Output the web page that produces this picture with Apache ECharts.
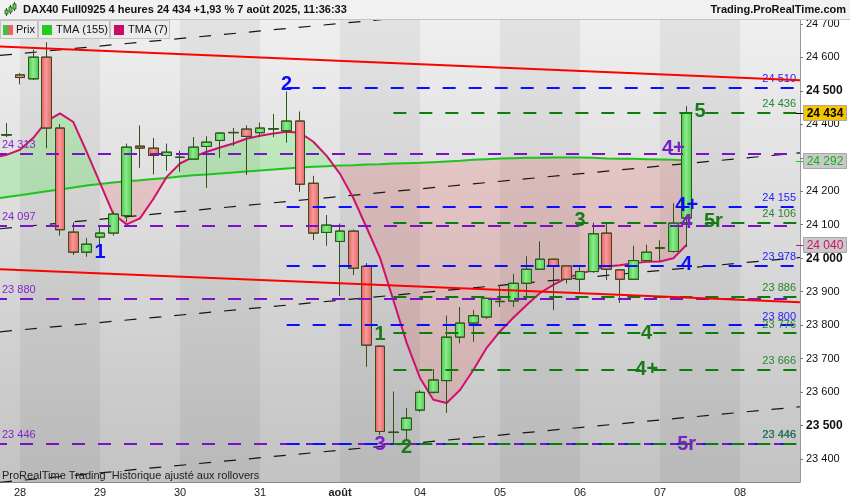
<!DOCTYPE html>
<html><head><meta charset="utf-8">
<script src="https://cdn.jsdelivr.net/npm/echarts@6.0.0/dist/echarts.min.js"></script>
<style>html,body{margin:0;padding:0;background:#fff;}#chart{width:850px;height:500px;}</style>
</head><body><div id="chart"></div>
<script>
const FONT = '"Liberation Sans", Arial, sans-serif';

// ---- time axis (4-hour bars) ----
const dayNames = ['25','28','29','30','31','août','04','05','06','07','08'];
const firstBarOfDay = [5,0,0,0,0,0,0,0,0,0,0];
const barsInDay = [1,6,6,6,6,6,6,6,6,6,5];
const barHours = ['01h','05h','09h','13h','17h','21h'];

// ---- price bars (slot 0 .. 51) ----
const open  = [24368,24548,24536,24601,24389,24078,24018,24063,24075,24127,24335,24329,24307,24301,24296,24334,24352,24375,24386,24375,24386,24381,24410,24224,24077,24050,24081,23976,23737,23479,23487,23546,23599,23634,23764,23806,23824,23870,23872,23925,23967,23997,23977,23937,23960,24075,23965,23937,23993,24030,24020,24120];
const close = [24369,24540,24601,24389,24085,24018,24042,24075,24132,24332,24329,24307,24317,24302,24332,24347,24374,24376,24364,24389,24387,24410,24221,24075,24099,24081,23970,23740,23482,23480,23522,23599,23636,23764,23806,23828,23880,23871,23925,23967,23997,23978,23937,23960,24073,23967,23937,23993,24018,24031,24105,24434];
const low   = [24362,24520,24533,24329,24068,24010,24005,24043,24068,24109,24271,24251,24262,24259,24294,24211,24301,24336,24249,24362,24362,24346,24199,24055,24038,23888,23950,23676,23472,23447,23457,23541,23596,23538,23746,23751,23819,23854,23855,23875,23965,23845,23925,23900,23957,23935,23867,23935,23992,23990,24017,24034];
const high  = [24404,24553,24623,24645,24401,24106,24060,24094,24139,24342,24396,24359,24342,24321,24362,24364,24377,24389,24396,24405,24431,24498,24438,24246,24129,24103,24085,23985,23740,23601,23552,23606,23668,23828,23854,23845,23882,23920,23953,24005,24050,23998,23978,23975,24106,24105,23966,24037,24040,24053,24164,24455];

// ---- moving averages (slot -1 .. 51) ----
const maFirstSlot = -1;
const tma7   = [24300,24309,24324,24360,24410,24433,24407,24318,24225,24132,24101,24119,24177,24243,24283,24303,24318,24331,24343,24357,24366,24373,24378,24375,24348,24306,24252,24180,24091,24001,23875,23747,23642,23577,23567,23606,23666,23732,23781,23822,23860,23896,23920,23941,23953,23965,23975,23979,23985,23989,23990,24000,24040];
const tma155 = [24177,24183,24188,24194,24200,24205,24211,24217,24222,24226,24230,24233,24237,24240,24244,24248,24250,24253,24256,24259,24262,24265,24268,24271,24273,24275,24277,24278,24280,24281,24283,24284,24285,24287,24289,24291,24294,24296,24298,24299,24300,24300,24301,24301,24301,24300,24298,24297,24297,24296,24295,24294,24292];

// ---- drawn lines: [slotPosStart, priceStart, slotPosEnd, priceEnd] ----
const trendDashed = [[0,24606,60,24831],[0,24088,60,24315],[0,23780,60,24002],[0,23330,60,23556]];
const trendRed = [[0,24633,60,24532],[0,23967,60,23868]];

// ---- horizontal levels: price, colour group, first slot ----
const levelPrice = [24510,24436,24313,24155,24106,24097,23978,23886,23880,23800,23776,23666,23446,23446,23446];
const levelGroup = ['b','g','p','b','g','p','b','g','p','b','g','g','p','b','g'];
const levelStartSlot = {b:21, g:29, p:null};

// ---- wave annotations ----
const waveText  = ['1','2','1','3','2','3','4','4+','4+','5','4+','4','5r','4','5r'];
const waveGroup = ['b','b','g','p','g','g','g','g','p','g','b','p','g','b','p'];
const waveSlot  = [7,21,28,28,30,43,48,48,50,52,51,51,53,51,51];
const wavePrice = [24016,24518,23771,23442,23433,24114,23774,23666,24329,24440,24159,24106,24109,23980,23442];

// ---- y tick labels ----
const yTicks = [23400,23500,23600,23700,23800,23900,24000,24100,24200,24300,24400,24500,24600,24700];

const COL = {b:'#0d0dff', g:'#0a7d0a', p:'#7a12c6'};
const TXT = {b:'#2222ff', g:'#23862a', p:'#8226cc'};
const WAVE = {b:'#0a0aff', g:'#1a7a1a', p:'#7a1ec8'};

const fmt = v => { const s = String(Math.round(v)); return s.slice(0, s.length-3) + ' ' + s.slice(-3); };

// categories
const categories = [], dayStartSlots = [], dayLabelOf = {};
dayNames.forEach((d, di) => {
  for (let k = firstBarOfDay[di]; k < firstBarOfDay[di] + barsInDay[di]; k++) {
    const name = d + ' ' + barHours[k];
    if (k === 0) { dayStartSlots.push(categories.length); dayLabelOf[name] = d; }
    categories.push(name);
  }
});
const N = categories.length;
const pos = s => s + 0.5;

const candleData = categories.map((c, i) => i < open.length ? [open[i], close[i], low[i], high[i]] : '-');
const maX = i => pos(i + maFirstSlot);
const ma7Data = tma7.map((v, i) => [maX(i), v]);
const ma155Data = tma155.map((v, i) => [maX(i), v]);

const bands = [];
for (let j = 0; j < dayStartSlots.length; j += 2) {
  const a = dayStartSlots[j], b = dayStartSlots[j+1] !== undefined ? dayStartSlots[j+1] : N;
  bands.push([{xAxis: pos(a)}, {xAxis: Math.min(pos(b), N)}]);
}

const levelLines = levelPrice.map((v, i) => {
  const g = levelGroup[i];
  const st = levelStartSlot[g] === null ? 0 : pos(levelStartSlot[g]);
  const isP = g === 'p';
  return [{
    coord: [st, v],
    lineStyle: {color: COL[g], width: 2, type: [13, 13], dashOffset: isP ? 6 : 0},
    label: {show: true, formatter: fmt(v), position: isP ? 'insideStartTop' : 'insideEndTop',
            distance: isP ? [2, 3] : [4, 3], color: TXT[g], fontSize: 11, fontFamily: FONT}
  }, {coord: [N, v]}];
});

const lineSeries = (arr, style, z) => arr.map(t => ({
  type: 'line', xAxisIndex: 1, data: [[t[0], t[1]], [t[2], t[3]]], symbol: 'none', clip: true,
  lineStyle: style, z: z, silent: true, animation: false
}));

// fill between the two averages (green above, red below)
function renderFill(params, api) {
  const P = (x, v) => api.coord([x, v]);
  const regions = [];
  let top = [P(maX(0), tma7[0])], bot = [P(maX(0), tma155[0])];
  let sign = (tma7[0] - tma155[0]) >= 0 ? 1 : -1;
  for (let i = 1; i < tma7.length; i++) {
    const d0 = tma7[i-1] - tma155[i-1], d1 = tma7[i] - tma155[i];
    const A1 = P(maX(i), tma7[i]), B1 = P(maX(i), tma155[i]);
    if (d0 * d1 < 0) {
      const t = d0 / (d0 - d1);
      const A0 = top[top.length - 1];
      const C = [A0[0] + (A1[0] - A0[0]) * t, A0[1] + (A1[1] - A0[1]) * t];
      top.push(C);
      regions.push({pts: top.concat(bot.slice().reverse()), sign: sign});
      top = [C]; bot = [C]; sign = d1 >= 0 ? 1 : -1;
    }
    top.push(A1); bot.push(B1);
  }
  regions.push({pts: top.concat(bot.slice().reverse()), sign: sign});
  const cs = params.coordSys;
  return {type: 'group', clipPath: {type: 'rect', shape: {x: cs.x, y: cs.y, width: cs.width, height: cs.height}},
    children: regions.map(r => ({type: 'polygon', shape: {points: r.pts},
      style: {fill: r.sign > 0 ? 'rgba(0,255,0,0.16)' : 'rgba(255,0,0,0.12)'}}))};
}

const option = {
  animation: false,
  grid: {left: 0, right: 50, top: 20, bottom: 18, show: true, borderWidth: 0,
    backgroundColor: {type: 'linear', x: 0, y: 0, x2: 0, y2: 1,
      colorStops: [{offset: 0, color: '#efefef'}, {offset: 1, color: '#c3c3c3'}]}},
  xAxis: [{
    type: 'category', data: categories, boundaryGap: true,
    axisLine: {onZero: false, lineStyle: {color: '#8a8a8a'}},
    axisTick: {alignWithLabel: true, length: 4, lineStyle: {color: '#777'}, interval: (i, v) => dayLabelOf[v] !== undefined},
    axisLabel: {interval: (i, v) => dayLabelOf[v] !== undefined, margin: 5,
      formatter: v => dayLabelOf[v] === 'août' ? '{b|août}' : (dayLabelOf[v] || ''),
      color: '#222', fontSize: 11, fontFamily: FONT, rich: {b: {fontWeight: 'bold', fontSize: 11, fontFamily: FONT, color: '#222'}}},
    splitLine: {show: false}
  }, {
    type: 'value', min: 0, max: N, show: false, splitLine: {show: false}
  }],
  yAxis: {
    type: 'value', position: 'right', min: 23331, max: 24712, scale: true,
    axisLine: {show: true, onZero: false, lineStyle: {color: '#999'}},
    axisTick: {show: true, length: 3, lineStyle: {color: '#777'}, customValues: yTicks},
    axisLabel: {customValues: yTicks, margin: 6, color: '#111', fontFamily: FONT,
      formatter: v => (v % 500 === 0 ? '{b|' : '{r|') + fmt(v) + '}',
      rich: {b: {fontWeight: 'bold', fontSize: 12, fontFamily: FONT, color: '#111'},
             r: {fontSize: 11, fontFamily: FONT, color: '#111'}}},
    splitLine: {show: false}
  },
  series: [
    {type: 'line', xAxisIndex: 1, data: [], z: 0, silent: true,
     markArea: {silent: true, itemStyle: {color: 'rgba(0,0,0,0.05)'}, data: bands}},
    {type: 'custom', xAxisIndex: 1, data: [[30, 24000]], z: 1, silent: true, renderItem: renderFill},
    ...lineSeries(trendDashed, {color: '#151515', width: 1.2, type: [12, 13]}, 2),
    {type: 'line', xAxisIndex: 1, data: ma155Data, symbol: 'none', clip: true, silent: true, z: 3,
     lineStyle: {color: '#1cc41c', width: 2}},
    {type: 'line', xAxisIndex: 1, data: ma7Data, symbol: 'none', clip: true, silent: true, z: 3,
     lineStyle: {color: '#d1106a', width: 2}},
    {type: 'candlestick', xAxisIndex: 0, data: candleData, barWidth: 10, z: 4, silent: true,
     itemStyle: {
       color: {type: 'linear', x: 0, y: 0, x2: 1, y2: 0, colorStops: [{offset: 0, color: '#3fc43f'}, {offset: 0.45, color: '#8ceb8c'}, {offset: 1, color: '#4ccc4c'}]},
       color0: {type: 'linear', x: 0, y: 0, x2: 1, y2: 0, colorStops: [{offset: 0, color: '#e45c5c'}, {offset: 0.45, color: '#f79a9a'}, {offset: 1, color: '#e86464'}]},
       borderColor: '#2c561b', borderColor0: '#3d4a1b', borderWidth: 1}},
    ...lineSeries(trendRed, {color: '#ff0000', width: 2}, 5),
    {type: 'line', xAxisIndex: 1, data: [], z: 5, silent: true,
     markLine: {silent: true, symbol: ['none', 'none'], animation: false, data: levelLines}},
    {type: 'scatter', xAxisIndex: 1, z: 6, silent: true, symbolSize: 1, itemStyle: {color: 'rgba(0,0,0,0)'},
     data: waveText.map((t, i) => ({value: [pos(waveSlot[i]), wavePrice[i]],
       label: {show: true, position: 'inside', formatter: t, color: WAVE[waveGroup[i]], opacity: 1,
               fontSize: 20, fontWeight: 'bold', fontFamily: FONT}}))}
  ]
};

const chart = echarts.init(document.getElementById('chart'));
chart.setOption(option);

// overlays: header, legend, footer, price markers
const yPix = v => chart.convertToPixel({yAxisIndex: 0}, v);
const lastPrice = close[close.length - 1];
const lastMa155 = tma155[tma155.length - 1];
const lastMa7 = tma7[tma7.length - 1];
const markers = [
  {v: lastMa7, fill: '#c9c9c9', color: '#d1106a', bold: false, tick: '#d1106a'},
  {v: lastMa155, fill: '#c9c9c9', color: '#18b018', bold: false, tick: '#1cc41c'},
  {v: lastPrice, fill: '#f7c500', color: '#000', bold: true, tick: '#000'}
];
const g = [];
g.push({type: 'rect', shape: {x: 0, y: 0, width: 850, height: 19}, style: {fill: '#f1f1f1'}, z: 100});
g.push({type: 'line', shape: {x1: 0, y1: 19.5, x2: 850, y2: 19.5}, style: {stroke: '#c6c6c6', lineWidth: 1}, z: 100});
[[5, 10, 4], [9, 7, 5], [13, 4, 5]].forEach(c => {
  g.push({type: 'line', shape: {x1: c[0] + 1.5, y1: c[1] - 2, x2: c[0] + 1.5, y2: c[1] + c[2] + 2}, style: {stroke: '#2c561b', lineWidth: 1}, z: 101});
  g.push({type: 'rect', shape: {x: c[0], y: c[1], width: 3, height: c[2]}, style: {fill: '#5ad65a', stroke: '#2c561b', lineWidth: 0.8}, z: 102});
});
g.push({type: 'text', x: 23, y: 10, style: {text: 'DAX40 Full0925 4 heures 24 434 +1,93 % 7 août 2025, 11:36:33', font: 'bold 11px ' + FONT, fill: '#111', verticalAlign: 'middle'}, z: 101});
g.push({type: 'text', x: 846, y: 10, style: {text: 'Trading.ProRealTime.com', font: 'bold 11px ' + FONT, fill: '#111', align: 'right', verticalAlign: 'middle'}, z: 101});
const legendItems = [{x: 0, w: 37, text: 'Prix', icon: 'split'}, {x: 38, w: 71, text: 'TMA (155)', icon: '#1fcc1f'}, {x: 110, w: 59, text: 'TMA (7)', icon: '#cc0a64'}];
legendItems.forEach(it => {
  g.push({type: 'rect', shape: {x: it.x + 0.5, y: 20.5, width: it.w, height: 18}, style: {fill: '#ebebeb', stroke: '#c2c2c2', lineWidth: 1}, z: 100});
  if (it.icon === 'split') {
    g.push({type: 'rect', shape: {x: it.x + 3, y: 25, width: 5, height: 10}, style: {fill: '#3cc43c'}, z: 101});
    g.push({type: 'rect', shape: {x: it.x + 8, y: 25, width: 5, height: 10}, style: {fill: '#e86464'}, z: 101});
    g.push({type: 'text', x: it.x + 16, y: 30, style: {text: it.text, font: '11px ' + FONT, fill: '#111', verticalAlign: 'middle'}, z: 101});
  } else {
    g.push({type: 'rect', shape: {x: it.x + 4, y: 25, width: 10, height: 10}, style: {fill: it.icon}, z: 101});
    g.push({type: 'text', x: it.x + 18, y: 30, style: {text: it.text, font: '11px ' + FONT, fill: '#111', verticalAlign: 'middle'}, z: 101});
  }
});
g.push({type: 'text', x: 2, y: 476, style: {text: 'ProRealTime Trading  Historique ajusté aux rollovers', font: '11px ' + FONT, fill: '#222', verticalAlign: 'middle'}, z: 101});
markers.forEach(m => {
  const y = Math.round(yPix(m.v));
  g.push({type: 'line', shape: {x1: 796, y1: y + 0.5, x2: 804, y2: y + 0.5}, style: {stroke: m.tick, lineWidth: 1}, z: 110});
  g.push({type: 'rect', shape: {x: 803.5, y: y - 7.5, width: 43, height: 15}, style: {fill: m.fill, stroke: '#a8a8a8', lineWidth: 1}, z: 110});
  g.push({type: 'text', x: 825, y: y + 0.5, style: {text: fmt(m.v), font: (m.bold ? 'bold 12px ' : '12px ') + FONT, fill: m.color, align: 'center', verticalAlign: 'middle'}, z: 111});
});
chart.setOption({graphic: g});
</script>
</body></html>
